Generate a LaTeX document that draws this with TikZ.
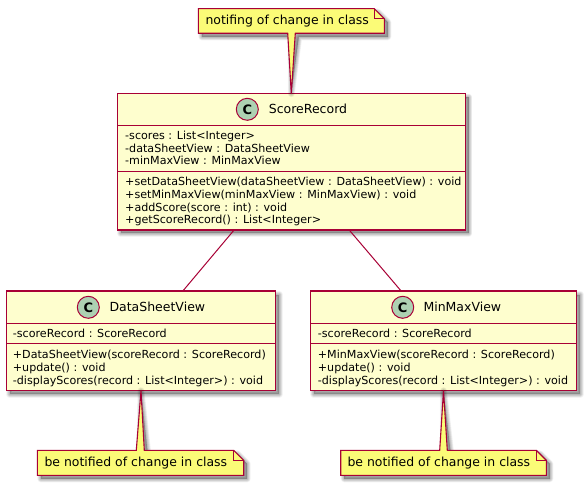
\documentclass[tikz,border=0pt]{standalone}
\usepackage{fontspec}
\setmainfont{DejaVu Sans}
\definecolor{umlline}{HTML}{A80036}
\definecolor{umlfill}{HTML}{FEFECE}
\definecolor{notefill}{HTML}{FBFB77}
\definecolor{spotfill}{HTML}{ADD1B2}
\tikzset{
  classbox/.style={draw=umlline,fill=umlfill,line width=1.4pt,anchor=north west,inner sep=0pt,outer sep=0pt},
  divider/.style={draw=umlline,line width=1.4pt},
  member/.style={anchor=base west,inner sep=0pt,font=\fontsize{11.12}{13}\selectfont,text=black},
  classtitle/.style={anchor=base west,inner sep=0pt,font=\fontsize{12.5}{15}\selectfont,text=black},
  notetext/.style={anchor=base west,inner sep=0pt,font=\fontsize{12.45}{15}\selectfont,text=black},
  spot/.style={circle,draw=umlline,fill=spotfill,line width=1pt,minimum size=22pt,inner sep=0pt,font=\fontsize{13}{13}\selectfont\bfseries,text=black},
  assoc/.style={draw=umlline,line width=1pt},
  notepath/.style={draw=umlline,fill=notefill,line width=1.1pt,line join=miter},
  foldpath/.style={draw=umlline,line width=1.1pt}
}
% soft offset shadow of a closed path
\newcommand{\softshade}[1]{%
  \foreach \w in {7,6,5,4,3,2,1}{%
    \path[xshift=3.5pt,yshift=-3.5pt,fill=black,draw=black,opacity=0.045,line width=\w pt,line join=round] #1;
  }%
}
\begin{document}
\begin{tikzpicture}[x=1pt,y=-1pt]
\useasboundingbox (0,0) rectangle (586,486);
\fill[white] (0,0) rectangle (586,486);

% class boxes
\softshade{(117.3,93.7) rectangle (465.3,230)}
\softshade{(6.3,291) rectangle (275.7,390.7)}
\softshade{(310.3,291) rectangle (576.7,390.7)}
\node[classbox,minimum width=348pt,minimum height=136.3pt] (sr) at (117.3,93.7) {};
\node[classbox,minimum width=269.4pt,minimum height=99.7pt] (dsv) at (6.3,291) {};
\node[classbox,minimum width=266.4pt,minimum height=99.7pt] (mmv) at (310.3,291) {};

% associations
\draw[assoc] (sr) -- (dsv);
\draw[assoc] (sr) -- (mmv);

% ScoreRecord
\draw[divider] (sr.west |- 0,125.5) -- (sr.east |- 0,125.5);
\draw[divider] (sr.west |- 0,171.5) -- (sr.east |- 0,171.5);
\node[spot] (srspot) at (247.3,109.3) {C};
\node[classtitle] (srtitle) at (268.7,113.5) {ScoreRecord};
\node[member] (sra) at (125,139.3) {-scores : List<Integer>};
\node[member] (srb) at (125,152.3) {-dataSheetView : DataSheetView};
\node[member] (src) at (125,165) {-minMaxView : MinMaxView};
\node[member] (srd) at (125,186) {+setDataSheetView(dataSheetView : DataSheetView) : void};
\node[member] (sre) at (125,198.7) {+setMinMaxView(minMaxView : MinMaxView) : void};
\node[member] (srf) at (125,211.3) {+addScore(score : int) : void};
\node[member] (srg) at (125,224) {+getScoreRecord() : List<Integer>};

% DataSheetView
\draw[divider] (dsv.west |- 0,323.5) -- (dsv.east |- 0,323.5);
\draw[divider] (dsv.west |- 0,343.5) -- (dsv.east |- 0,343.5);
\node[spot] (dsvspot) at (88.3,307.3) {C};
\node[classtitle] (dsvtitle) at (109.3,311) {DataSheetView};
\node[member] (dsva) at (12.7,337) {-scoreRecord : ScoreRecord};
\node[member] (dsvb) at (12.7,358) {+DataSheetView(scoreRecord : ScoreRecord)};
\node[member] (dsvc) at (12.7,371) {+update() : void};
\node[member] (dsvd) at (12.7,384) {-displayScores(record : List<Integer>) : void};

% MinMaxView
\draw[divider] (mmv.west |- 0,323.5) -- (mmv.east |- 0,323.5);
\draw[divider] (mmv.west |- 0,343.5) -- (mmv.east |- 0,343.5);
\node[spot] (mmvspot) at (402.7,307.3) {C};
\node[classtitle] (mmvtitle) at (423.3,311) {MinMaxView};
\node[member] (mmva) at (317.7,337) {-scoreRecord : ScoreRecord};
\node[member] (mmvb) at (317.7,358) {+MinMaxView(scoreRecord : ScoreRecord)};
\node[member] (mmvc) at (317.7,371) {+update() : void};
\node[member] (mmvd) at (317.7,384) {-displayScores(record : List<Integer>) : void};

% note on ScoreRecord
\softshade{(198.3,8.7) -- (374.3,8.7) -- (384.3,18.7) -- (384.3,33.3) -- (295.3,33.3) -- (sr.north) -- (287.7,33.3) -- (198.3,33.3) -- cycle}
\draw[notepath] (198.3,8.7) -- (374.3,8.7) -- (384.3,18.7) -- (384.3,33.3) -- (295.3,33.3) -- (sr.north) -- (287.7,33.3) -- (198.3,33.3) -- cycle;
\draw[foldpath] (374.3,8.7) -- (374.3,18.7) -- (384.3,18.7);
\node[notetext] (srnote) at (205.3,25) {notifing of change in class};

% note on DataSheetView
\softshade{(37.3,450.3) -- (136.3,450.3) -- (dsv.south) -- (144.3,450.3) -- (233.7,450.3) -- (243.7,460.3) -- (243.7,475.3) -- (37.3,475.3) -- cycle}
\draw[notepath] (37.3,450.3) -- (136.3,450.3) -- (dsv.south) -- (144.3,450.3) -- (233.7,450.3) -- (243.7,460.3) -- (243.7,475.3) -- (37.3,475.3) -- cycle;
\draw[foldpath] (233.7,450.3) -- (233.7,460.3) -- (243.7,460.3);
\node[notetext] (dsvnote) at (44.3,466.7) {be notified of change in class};

% note on MinMaxView
\softshade{(340.7,450.3) -- (439.7,450.3) -- (mmv.south) -- (447.3,450.3) -- (536.3,450.3) -- (546.3,460.3) -- (546.3,475.3) -- (340.7,475.3) -- cycle}
\draw[notepath] (340.7,450.3) -- (439.7,450.3) -- (mmv.south) -- (447.3,450.3) -- (536.3,450.3) -- (546.3,460.3) -- (546.3,475.3) -- (340.7,475.3) -- cycle;
\draw[foldpath] (536.3,450.3) -- (536.3,460.3) -- (546.3,460.3);
\node[notetext] (mmvnote) at (347.3,466.7) {be notified of change in class};
\end{tikzpicture}
\end{document}
